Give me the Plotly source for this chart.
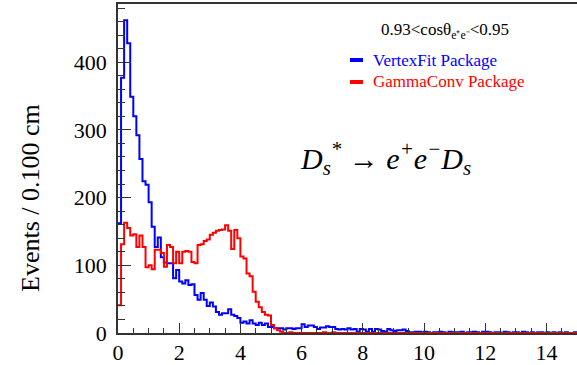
import numpy as np
import plotly.graph_objects as go

# Bin width 0.1 cm, range 0-15 cm (150 bins)
bin_width = 0.1
x_min, x_max = 0.0, 15.0

vertexfit_counts = [
    162, 377, 462, 428, 349, 320, 292, 257, 224, 219,
    193, 157, 127, 141, 112, 104, 103, 103, 81, 93,
    76, 73, 78, 71, 72, 56, 49, 59, 49, 40,
    45, 39, 31, 27, 29, 29, 35, 27, 25, 22,
    15, 17, 14, 19, 14, 12, 15, 12, 14, 9,
    9, 7, 7, 7, 5, 7, 7, 6, 7, 7,
    13, 9, 11, 11, 9, 6, 8, 8, 10, 9,
    9, 6, 5, 6, 5, 7, 5, 6, 2, 6,
    5, 2, 6, 2, 6, 5, 3, 2, 6, 4,
    3, 4, 4, 5, 3, 1, 1, 2, 2, 1,
    2, 1, 0, 1, 1, 2, 1, 0, 2, 1,
    1, 1, 2, 0, 1, 1, 2, 1, 0, 2,
    2, 1, 0, 1, 1, 0, 2, 1, 0, 1,
    1, 0, 2, 1, 0, 1, 0, 1, 1, 0,
    1, 0, 1, 0, 1, 0, 1, 0, 0, 1,
]

gammaconv_counts = [
    41, 131, 163, 155, 144, 146, 127, 144, 127, 97,
    100, 94, 123, 123, 118, 98, 130, 127, 103, 120,
    103, 120, 121, 120, 105, 103, 130, 131, 136, 138,
    145, 148, 151, 152, 153, 159, 151, 124, 152, 140,
    113, 110, 88, 84, 61, 46, 38, 31, 27, 26,
    12, 7, 4, 2, 0, 0, 1, 0, 0, 0,
    0, 0, 0, 0, 0, 0, 0, 1, 0, 0,
    1, 0, 0, 0, 0, 0, 0, 0, 0, 0,
    0, 0, 0, 0, 0, 0, 0, 0, 0, 0,
    0, 0, 0, 0, 0, 0, 0, 0, 0, 0,
    0, 0, 0, 0, 0, 0, 0, 0, 0, 0,
    0, 0, 0, 0, 0, 0, 0, 0, 0, 0,
    0, 0, 0, 0, 0, 0, 0, 0, 0, 0,
    0, 0, 0, 0, 0, 0, 0, 0, 0, 0,
    0, 0, 0, 0, 0, 0, 0, 0, 0, 0,
]

series_names = ["VertexFit Package", "GammaConv Package"]
series_colors = ["#0000ff", "#ff0000"]
y_tick_vals = [0, 100, 200, 300, 400]
x_tick_vals = [0, 2, 4, 6, 8, 10, 12, 14]

n_bins = len(vertexfit_counts)
edges = np.round(x_min + bin_width * np.arange(n_bins + 1), 3)

SERIF = "Times New Roman"

fig = go.Figure()
for counts, name, color in zip([vertexfit_counts, gammaconv_counts], series_names, series_colors):
    fig.add_trace(go.Scatter(
        x=edges,
        y=list(counts) + [counts[-1]],
        mode="lines",
        line=dict(color=color, width=2, shape="hv"),
        name=name,
        showlegend=False,
        hoverinfo="skip",
    ))

W, H = 577, 365
ml, mr, mt, mb = 118, 0, 4, 32

fig.update_layout(
    width=W, height=H,
    margin=dict(l=ml, r=mr, t=mt, b=mb, autoexpand=False),
    paper_bgcolor="white",
    plot_bgcolor="white",
    showlegend=False,
    font=dict(family=SERIF, color="black"),
)

fig.update_xaxes(
    range=[x_min, x_max],
    tickvals=x_tick_vals,
    ticks="inside", ticklen=10, tickwidth=1, tickcolor="#333",
    minor=dict(dtick=0.5, ticks="inside", ticklen=5, tickwidth=1, tickcolor="#333"),
    showline=True, linecolor="#333", linewidth=1.5, mirror=True,
    showgrid=False, zeroline=False,
    tickfont=dict(family=SERIF, size=22, color="black"),
    ticklabelstandoff=-1,
    automargin=False,
)
fig.update_yaxes(
    range=[0, 486],
    tickvals=y_tick_vals,
    ticks="inside", ticklen=13, tickwidth=1, tickcolor="#333",
    minor=dict(dtick=20, ticks="inside", ticklen=7, tickwidth=1, tickcolor="#333"),
    showline=True, linecolor="#333", linewidth=1.5,
    showgrid=False, zeroline=False,
    tickfont=dict(family=SERIF, size=22, color="black"),
    ticklabelstandoff=5,
    automargin=False,
)

pw = W - ml - mr
ph = H - mt - mb


def px(xp):
    return (xp - ml) / pw


def py(yp):
    return (H - mb - yp) / ph


annotations = [
    dict(text="Events / 0.100 cm", textangle=-90, x=px(30), y=py(198),
         xref="paper", yref="paper", showarrow=False, xanchor="center", yanchor="middle",
         font=dict(family=SERIF, size=26, color="black")),
    dict(text="0.93&lt;cosθ<sub>e⁺e⁻</sub>&lt;0.95", x=px(445), y=py(31),
         xref="paper", yref="paper", showarrow=False, xanchor="center", yanchor="middle",
         font=dict(family=SERIF, size=17, color="black")),
    dict(text=series_names[0], x=px(371), y=py(60),
         xref="paper", yref="paper", showarrow=False, xanchor="left", yanchor="middle",
         font=dict(family=SERIF, size=17, color=series_colors[0])),
    dict(text=series_names[1], x=px(371), y=py(82),
         xref="paper", yref="paper", showarrow=False, xanchor="left", yanchor="middle",
         font=dict(family=SERIF, size=17, color=series_colors[1])),
    dict(text="<i>D<sub>s</sub><sup>*</sup> → e<sup>+</sup>e<sup>−</sup>D<sub>s</sub></i>",
         x=px(298), y=py(158),
         xref="paper", yref="paper", showarrow=False, xanchor="left", yanchor="middle",
         font=dict(family=SERIF, size=30, color="black")),
]
fig.update_layout(annotations=annotations)

shapes = []
for yy, color in [(60, series_colors[0]), (82, series_colors[1])]:
    shapes.append(dict(type="line", xref="paper", yref="paper",
                       x0=px(350), x1=px(363), y0=py(yy), y1=py(yy),
                       line=dict(color=color, width=4)))
fig.update_layout(shapes=shapes)

fig.write_html("out.html")
